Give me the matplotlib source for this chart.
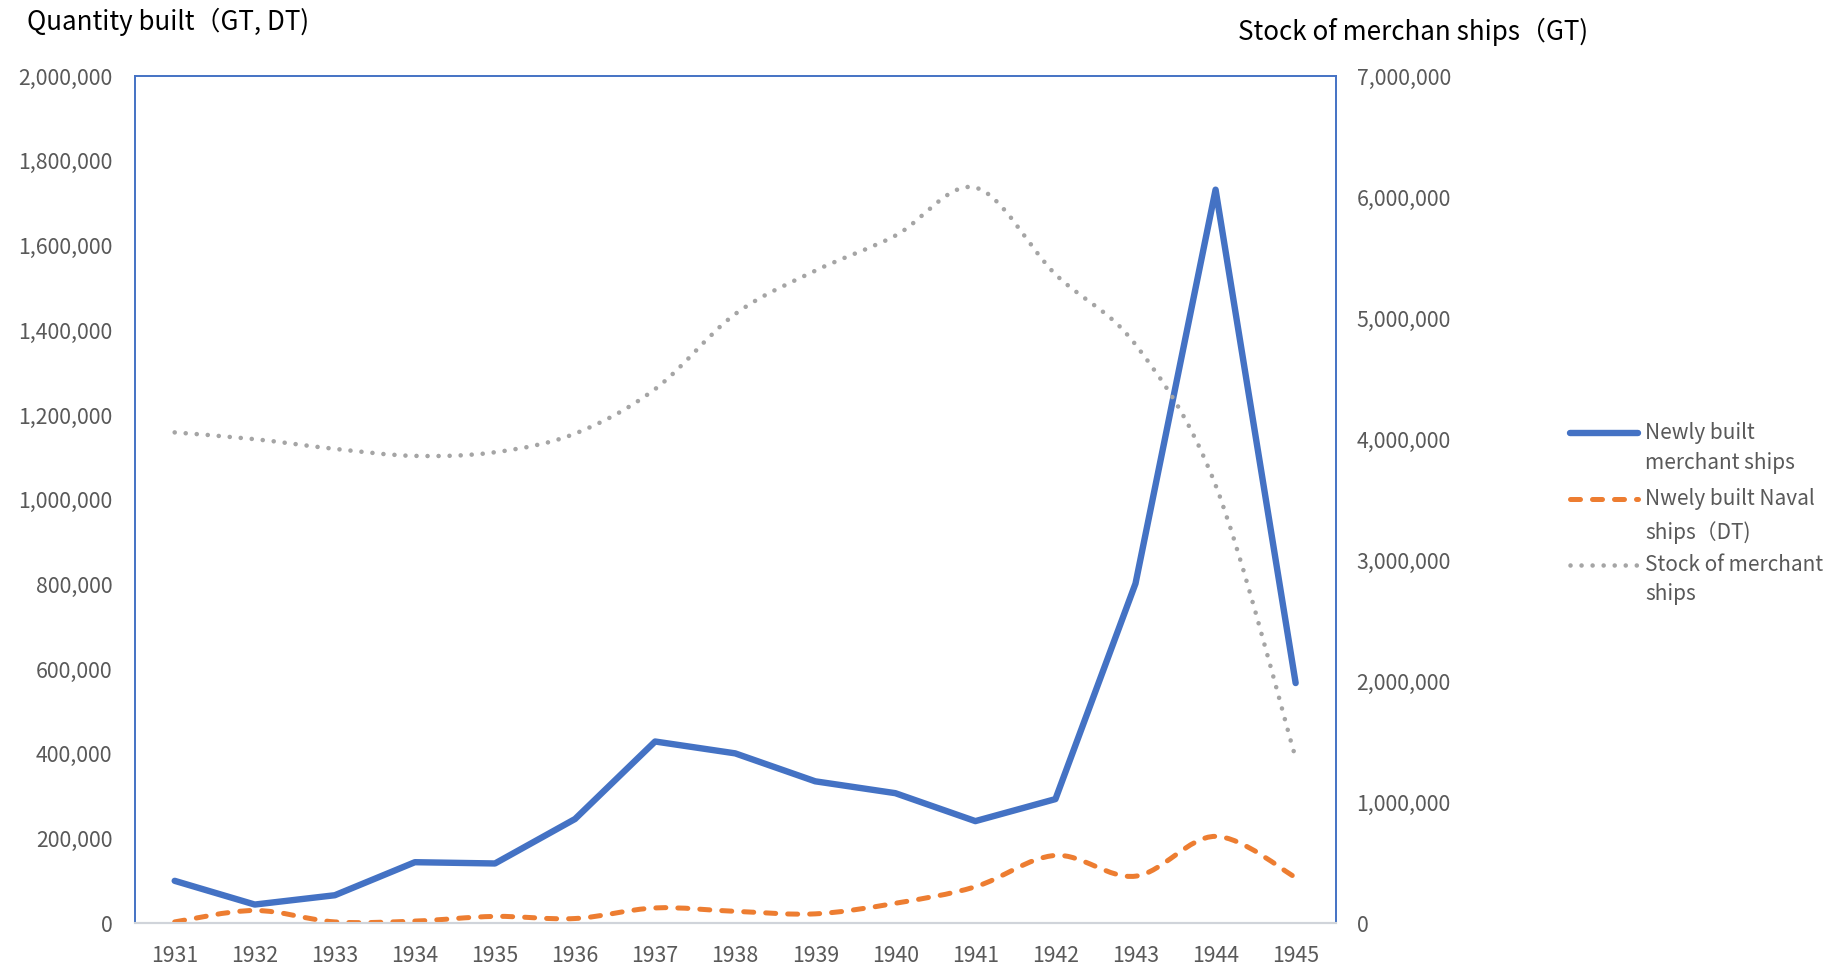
import numpy as np
import matplotlib.pyplot as plt
from matplotlib.path import Path
from matplotlib.patches import PathPatch
from matplotlib.lines import Line2D
from matplotlib.ticker import FuncFormatter

plt.rcParams['font.family'] = ['Noto Sans CJK JP', 'DejaVu Sans']

years = [1931, 1932, 1933, 1934, 1935, 1936, 1937, 1938, 1939, 1940, 1941, 1942, 1943, 1944, 1945]
merchant_built = [100000, 44000, 66000, 144000, 141000, 246000, 429000, 401000, 335000, 307000,
                  241000, 293000, 802000, 1732000, 567000]
naval_built = [3000, 30000, 3000, 5000, 16000, 11000, 36000, 28000, 22000, 47000,
               86000, 160000, 111000, 205000, 108000]
merchant_stock = [4056000, 4000000, 3920000, 3862000, 3892000, 4046000, 4414000, 5034000, 5392000,
                  5682000, 6079000, 5363000, 4782000, 3620000, 1365000]

labels = [['Newly built', 'merchant ships'],
          ['Nwely built Naval', 'ships（DT)'],
          ['Stock of merchant', 'ships']]

blue = '#4472C4'
orange = '#ED7D31'
gray = '#A5A5A5'
tick_color = '#595959'

orange_ls = (0, (2.0, 2.4))
gray_ls = (0, (0.01, 2.4))


def smooth_path(x, y):
    # Excel-style smoothed line: cubic bezier through the points
    pts = np.column_stack([x, y]).astype(float)
    n = len(pts)
    verts = [pts[0]]
    codes = [Path.MOVETO]
    for i in range(n - 1):
        p0 = pts[max(i - 1, 0)]
        p1 = pts[i]
        p2 = pts[i + 1]
        p3 = pts[min(i + 2, n - 1)]
        verts += [p1 + (p2 - p0) / 6, p2 - (p3 - p1) / 6, p2]
        codes += [Path.CURVE4] * 3
    return Path(verts, codes)


fig = plt.figure(figsize=(18.37, 9.68), dpi=100)
ax = fig.add_axes([0.0733, 0.0463, 0.6538, 0.875])
ax2 = ax.twinx()

xs = np.arange(len(years))

ax.plot(xs, merchant_built, color=blue, lw=4.6, solid_capstyle='round', solid_joinstyle='round', zorder=3)
ax.add_patch(PathPatch(smooth_path(xs, naval_built), fill=False, edgecolor=orange, lw=3.6,
                       linestyle=orange_ls, capstyle='round', zorder=3))
ax2.add_patch(PathPatch(smooth_path(xs, merchant_stock), fill=False, edgecolor=gray, lw=3.3,
                        linestyle=gray_ls, capstyle='round', zorder=3))

ax.set_xlim(-0.5, len(years) - 0.5)
ax.set_ylim(0, 2000000)
ax2.set_ylim(0, 7000000)
ax.set_yticks(np.arange(0, 2000001, 200000))
ax2.set_yticks(np.arange(0, 7000001, 1000000))
ax.set_xticks(xs)
ax.set_xticklabels([str(y) for y in years])

fmt = FuncFormatter(lambda v, p: '{:,.0f}'.format(v))
ax.yaxis.set_major_formatter(fmt)
ax2.yaxis.set_major_formatter(fmt)

for a in (ax, ax2):
    a.tick_params(length=0, labelsize=15.3, colors=tick_color)
ax.tick_params(axis='y', pad=16)
ax.tick_params(axis='x', pad=16)
ax2.tick_params(axis='y', pad=15)

for a in (ax, ax2):
    for s in ('left', 'top', 'right'):
        a.spines[s].set_color(blue)
        a.spines[s].set_linewidth(1.2)
    a.spines['bottom'].set_color('#D0D4DA')
    a.spines['bottom'].set_linewidth(1.5)

fig.text(0.0147, 0.977, 'Quantity built（GT, DT)', fontsize=18.7, color='black', va='center', ha='left')
fig.text(0.674, 0.967, 'Stock of merchan ships（GT)', fontsize=18.7, color='black', va='center', ha='left')

# legend drawn by hand: Excel puts the key next to the first line of a wrapped label
styles = [
    dict(color=blue, lw=4.6, solid_capstyle='round'),
    dict(color=orange, lw=3.6, linestyle=orange_ls, dash_capstyle='round'),
    dict(color=gray, lw=3.3, linestyle=gray_ls, dash_capstyle='round'),
]
key_y = [0.5522, 0.4844, 0.4166]
line_gap = [0.0303, 0.0351, 0.0303]
for st, y, gap, lines in zip(styles, key_y, line_gap, labels):
    fig.add_artist(Line2D([0.8547, 0.8917], [y, y], transform=fig.transFigure, **st))
    for k, s in enumerate(lines):
        fig.text(0.8955, y - k * gap, s, fontsize=15, color=tick_color, va='center', ha='left')

fig.savefig('out.png', dpi=100)
